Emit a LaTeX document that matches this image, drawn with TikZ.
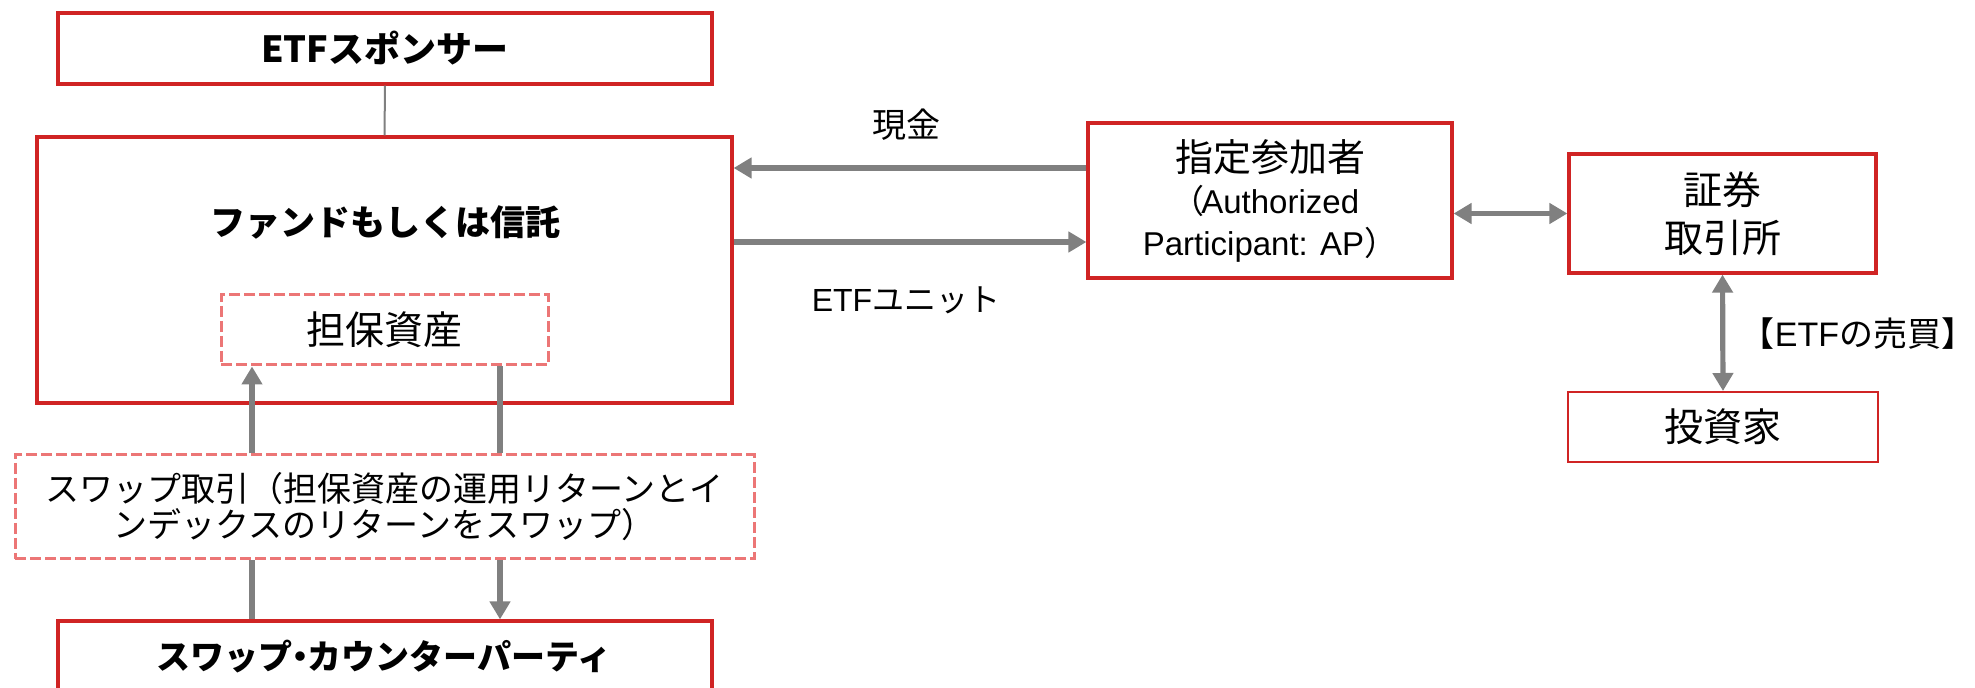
\documentclass[tikz,border=0pt]{standalone}
\usepackage{fontspec}
\setmainfont{Liberation Sans}
\newfontfamily\jp{Noto Sans CJK JP}
\usetikzlibrary{arrows.meta,calc}
\definecolor{boxred}{RGB}{208,36,36}
\definecolor{dashred}{RGB}{236,118,118}
\definecolor{arrgray}{RGB}{128,128,128}
\begin{document}
\begin{tikzpicture}[x=0.5pt,y=-0.5pt,
  redbox/.style={draw=boxred,line width=1.6pt,inner sep=0pt,align=center},
  dbox/.style={draw=dashred,line width=1.5pt,dash pattern=on 5.5pt off 2pt,inner sep=0pt,align=center},
  arr/.style={draw=arrgray,line width=2.6pt,-{Triangle[width=10pt,length=9pt]}},
  darr/.style={draw=arrgray,line width=2.6pt,{Triangle[width=10pt,length=9pt]}-{Triangle[width=10pt,length=9pt]}},
  plain/.style={draw=arrgray,line width=2.6pt},
  thinline/.style={draw=arrgray,line width=1pt},
  lbl/.style={inner sep=0pt,align=center}]
\fill[white] (0,0) rectangle (1975,688);
\clip (0,0) rectangle (1975,688);
% boxes
\node[redbox,minimum width=327pt,minimum height=35.5pt,font=\jp\bfseries\fontsize{18}{22}\selectfont] (sponsor) at (385,48.5)
  {ETFスポンサー};
\node[redbox,minimum width=347.5pt,minimum height=133pt] (fund) at (384.5,270) {};
\node[lbl,font=\jp\bfseries\fontsize{17.5}{22}\selectfont] (fundlbl) at (385,222) {ファンドもしくは信託};
\node[dbox,minimum width=163.5pt,minimum height=35pt,font=\jp\fontsize{19.5}{22}\selectfont] (coll) at (384.5,330)
  {担保資産};
\node[dbox,minimum width=369.5pt,minimum height=52pt,font=\jp\fontsize{17}{18}\selectfont] (swap) at (384.5,507)
  {スワップ取引（担保資産の運用リターンとイ\\ンデックスのリターンをスワップ）};
\node[redbox,minimum width=327pt,minimum height=39.5pt] (cp) at (385,660.5) {};
\node[lbl,font=\jp\bfseries\fontsize{17}{22}\selectfont] (cplbl) at (384,657) {スワップ\kern-.28em・\kern-.28em カウンターパーティ};
\node[redbox,minimum width=182pt,minimum height=77.5pt,font=\jp\fontsize{19}{21}\selectfont] (ap) at (1270,200.5)
  {指定参加者\\
   {\fontsize{16.5}{21}\selectfont\kern-.3em（\kern-.08em\rmfamily Authorized}\\
   {\rmfamily\fontsize{16.5}{21}\selectfont Participant: AP}{\fontsize{16.5}{21}\selectfont）}};
\node[redbox,minimum width=153.5pt,minimum height=59.5pt,font=\jp\fontsize{19.5}{24}\selectfont] (ex) at (1722.5,213.5)
  {証券\\取引所};
\node[draw=boxred,line width=1pt,inner sep=0pt,minimum width=155pt,minimum height=35pt,font=\jp\fontsize{19.5}{22}\selectfont] (inv) at (1723,427)
  {投資家};
% labels
\node[lbl,font=\jp\fontsize{17}{20}\selectfont] (cash) at (906,125) {現金};
\node[lbl,font=\jp\fontsize{16}{20}\selectfont] (unit) at (906,300) {{\rmfamily ETF}ユニット};
\node[lbl,font=\jp\fontsize{17}{20}\selectfont] (trade) at (1858,334) {【{\rmfamily ETF}の売買】};
% helper coordinates
\coordinate (xL) at (252,0);
\coordinate (xR) at (500,0);
\coordinate (yC) at (0,168);
\coordinate (yE) at (0,242);
% connectors
\draw[thinline] (sponsor.south) -- (fund.north);
\draw[arr] (ap.west |- yC) -- (fund.east |- yC);
\draw[arr] (fund.east |- yE) -- (ap.west |- yE);
\draw[darr] (ap.east |- ex.west) -- (ex.west);
\draw[darr] (ex.south) -- (inv.north);
\draw[arr] (swap.north -| xL) -- (coll.south -| xL);
\draw[plain] (coll.south -| xR) -- (swap.north -| xR);
\draw[plain] (cp.north -| xL) -- (swap.south -| xL);
\draw[arr] (swap.south -| xR) -- (cp.north -| xR);
\end{tikzpicture}
\end{document}
